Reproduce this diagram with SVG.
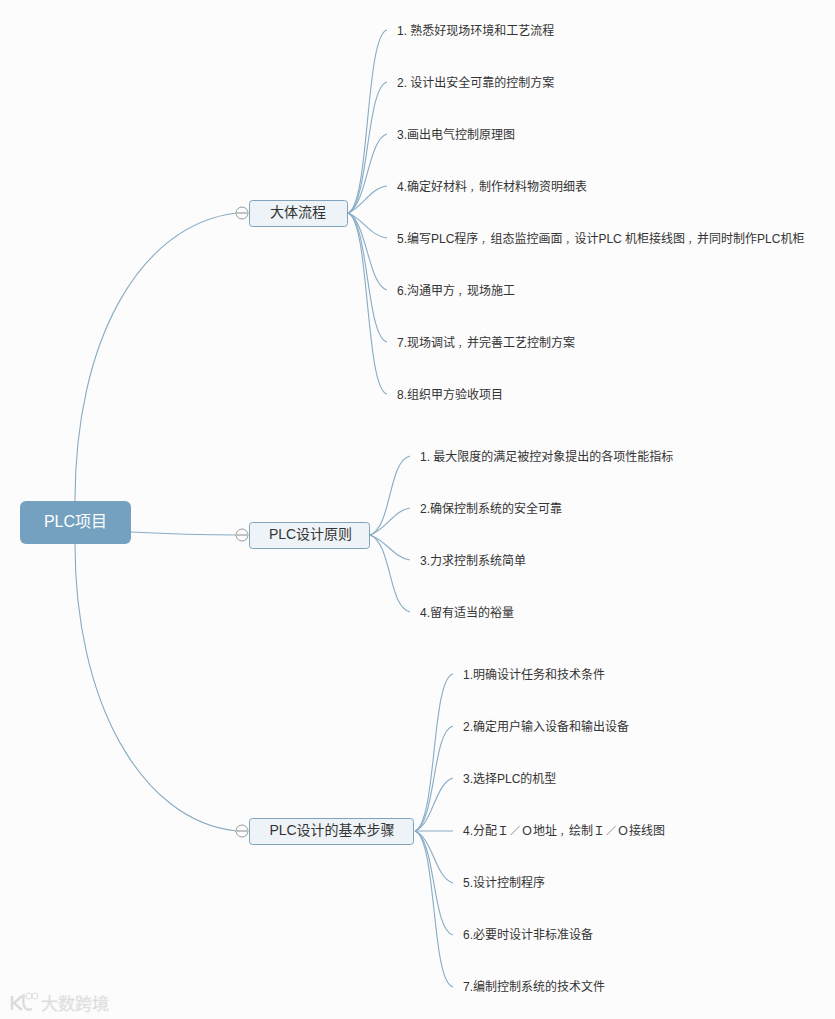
<svg xmlns="http://www.w3.org/2000/svg" width="835" height="1019" viewBox="0 0 835 1019">
<style>
text{font-family:"Liberation Sans","Noto Sans CJK SC",sans-serif}
.c{fill:none;stroke:#86acc4;stroke-width:1.100}
.b{fill:#eef3f7;stroke:#7fa3bb;stroke-width:1}
.bt{font-size:14px;fill:#333;text-anchor:middle}
.l{font-size:12px;fill:#333}
.s{font-size:10px}
.k{font-size:9px}
.m{fill:#fbfcfc;stroke:#999;stroke-width:1}
.mm{stroke:#888;stroke-width:1}
</style>
<rect width="835" height="1019" fill="#fcfcfc"/>
<g id="connectors">
<path class="c" d="M75 501C75 340 140 225 236 213"/>
<path class="c" d="M131 532C170 534 200 535 236 535"/>
<path class="c" d="M75 544C75 700 140 820 236 831"/>
<path class="c" d="M348 213C370 205 365 35 387 30"/>
<path class="c" d="M348 213C369 205 366 87 387 82"/>
<path class="c" d="M348 213C367 205 368 139 387 134"/>
<path class="c" d="M348 213C362 208 370 188 387 186"/>
<path class="c" d="M348 213C362 218 370 236 387 238"/>
<path class="c" d="M348 213C367 221 368 285 387 290"/>
<path class="c" d="M348 213C369 221 366 337 387 342"/>
<path class="c" d="M348 213C370 221 365 389 387 394"/>
<path class="c" d="M370 535C392 527 388 461 410 456"/>
<path class="c" d="M370 535C386 530 394 510 410 508"/>
<path class="c" d="M370 535C386 540 394 558 410 560"/>
<path class="c" d="M370 535C392 543 388 607 410 612"/>
<path class="c" d="M415 831C437 823 431 679 453 674"/>
<path class="c" d="M415 831C436 823 432 731 453 726"/>
<path class="c" d="M415 831C433 824 435 783 453 778"/>
<path class="c" d="M415 831L453 831"/>
<path class="c" d="M415 831C433 838 435 878 453 883"/>
<path class="c" d="M415 831C436 839 432 930 453 935"/>
<path class="c" d="M415 831C437 839 431 982 453 987"/>
</g>
<g id="root"><rect x="20" y="501" width="111" height="43" rx="6" fill="#73a1bf"/><text x="75.500" y="526.500" font-size="16" fill="#fff" text-anchor="middle">PLC项目</text></g>
<g id="branch1"><rect class="b" x="249.500" y="200.500" width="98" height="26" rx="3"/><text class="bt" x="298" y="217">大体流程</text><circle class="m" cx="242" cy="213" r="6"/><path class="mm" d="M237 213H247"/></g>
<g id="branch2"><rect class="b" x="249.500" y="522.500" width="120" height="26" rx="3"/><text class="bt" x="310.500" y="539">PLC设计原则</text><circle class="m" cx="242" cy="535" r="6"/><path class="mm" d="M237 535H247"/></g>
<g id="branch3"><rect class="b" x="249.500" y="818.500" width="164" height="26" rx="3"/><text class="bt" x="332" y="835">PLC设计的基本步骤</text><circle class="m" cx="242" cy="831" r="6"/><path class="mm" d="M237 831H247"/></g>
<g id="leaves1">
<text class="l" x="397" y="35">1. 熟悉好现场环境和工艺流程</text>
<text class="l" x="397" y="87">2. 设计出安全可靠的控制方案</text>
<text class="l" x="397" y="139">3.画出电气控制原理图</text>
<text class="l" x="397" y="191">4.确定好材料<tspan class="k" dx="3">，</tspan>制作材料物资明细表</text>
<text class="l" x="397" y="243">5.编写PLC程序<tspan class="k" dx="3">，</tspan>组态监控画面<tspan class="k" dx="3">，</tspan>设计PLC 机柜接线图<tspan class="k" dx="3">，</tspan>并同时制作PLC机柜</text>
<text class="l" x="397" y="295">6.沟通甲方<tspan class="k" dx="3">，</tspan>现场施工</text>
<text class="l" x="397" y="347">7.现场调试<tspan class="k" dx="3">，</tspan>并完善工艺控制方案</text>
<text class="l" x="397" y="399">8.组织甲方验收项目</text>
</g>
<g id="leaves2">
<text class="l" x="420" y="461">1. 最大限度的满足被控对象提出的各项性能指标</text>
<text class="l" x="420" y="513">2.确保控制系统的安全可靠</text>
<text class="l" x="420" y="565">3.力求控制系统简单</text>
<text class="l" x="420" y="617">4.留有适当的裕量</text>
</g>
<g id="leaves3">
<text class="l" x="463" y="679">1.明确设计任务和技术条件</text>
<text class="l" x="463" y="731">2.确定用户输入设备和输出设备</text>
<text class="l" x="463" y="783">3.选择PLC的机型</text>
<text class="l" x="463" y="835">4.分配Ｉ<tspan class="s" dx="1">／</tspan><tspan dx="1">Ｏ</tspan>地址<tspan class="k" dx="3">，</tspan>绘制Ｉ<tspan class="s" dx="1">／</tspan><tspan dx="1">Ｏ</tspan>接线图</text>
<text class="l" x="463" y="887">5.设计控制程序</text>
<text class="l" x="463" y="939">6.必要时设计非标准设备</text>
<text class="l" x="463" y="991">7.编制控制系统的技术文件</text>
</g>
<g id="watermark">
<path d="M12 996V1010M22 996L14 1003L22 1010M24 994C22 1004 24 1012 32 1009" fill="none" stroke="#dcdcdc" stroke-width="2.500"/>
<circle cx="29" cy="996" r="3" fill="none" stroke="#dcdcdc"/><circle cx="35" cy="996" r="3" fill="none" stroke="#dcdcdc"/>
<text x="41" y="1010" font-size="17" fill="#d8d8d8" stroke="#e8e8e8" stroke-width="0.500">大数跨境</text>
</g>
</svg>
